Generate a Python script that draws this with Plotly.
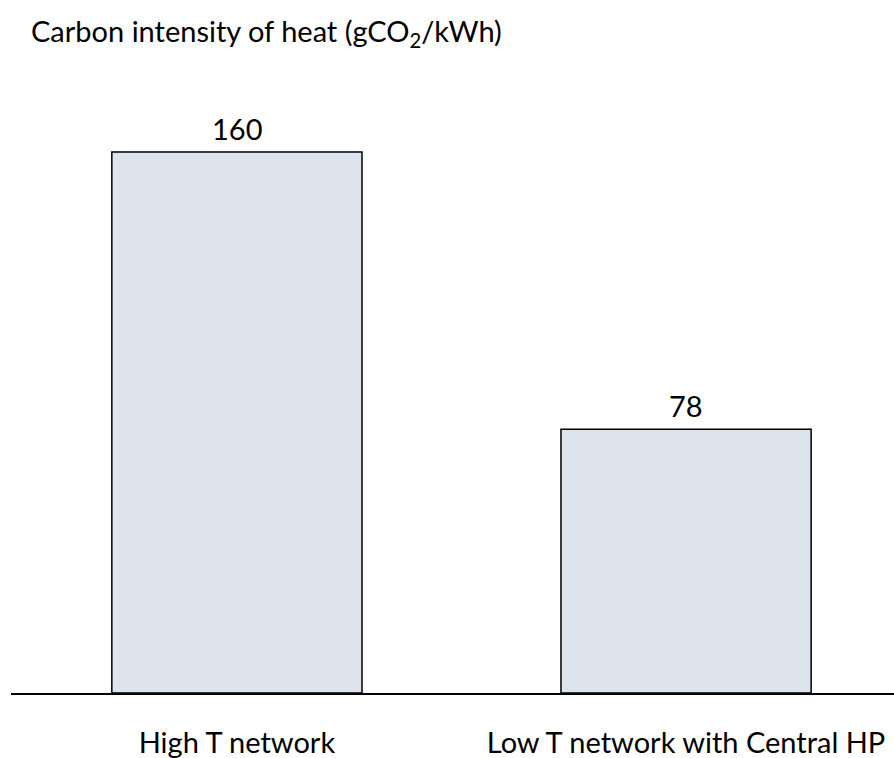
import plotly.graph_objects as go

categories = ["High T network", "Low T network with Central HP"]
intensity = [160, 78]
title_text = "Carbon intensity of heat (gCO<sub>2</sub>/kWh)"

FONT = "Lato"
TEXT_COLOR = "#000000"
BAR_FILL = "#DDE4EE"
FONT_SIZE = 29

fig = go.Figure()
fig.add_trace(go.Bar(
    x=[0, 1],
    y=intensity,
    width=0.557,
    marker=dict(color=BAR_FILL, line=dict(color="#000000", width=1.5)),
    hoverinfo="skip",
))

# value labels above each bar
for i, v in enumerate(intensity):
    fig.add_annotation(
        x=i, y=v, text=str(v), showarrow=False,
        yanchor="bottom", yshift=4,
        font=dict(family=FONT, size=FONT_SIZE, color=TEXT_COLOR),
    )

fig.update_layout(
    width=894, height=758,
    margin=dict(l=11, r=0, t=60, b=65, autoexpand=False),
    paper_bgcolor="white", plot_bgcolor="white",
    showlegend=False,
    title=dict(
        text=title_text,
        x=31 / 894, xanchor="left", xref="container",
        y=1 - 32 / 758, yanchor="middle", yref="container",
        font=dict(family=FONT, size=FONT_SIZE, color=TEXT_COLOR),
    ),
)

fig.update_xaxes(
    range=[-0.503, 1.463],
    tickmode="array", tickvals=[0, 1], ticktext=categories,
    showline=True, linecolor="#000000", linewidth=2,
    ticks="", showgrid=False, zeroline=False,
    automargin=False,
    ticklabelstandoff=23,
    tickfont=dict(family=FONT, size=FONT_SIZE, color=TEXT_COLOR),
)
fig.update_yaxes(
    range=[0, 187.2],
    visible=False, showgrid=False, zeroline=False,
)

fig.write_html("out.html")
